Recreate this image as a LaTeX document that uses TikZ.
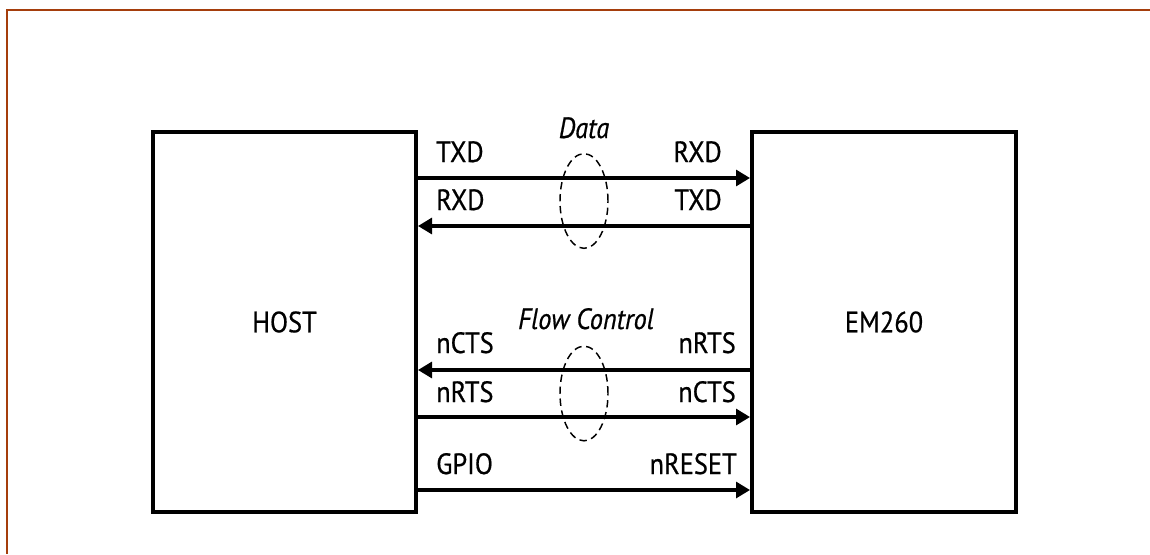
\documentclass[tikz,border=0pt]{standalone}
\usepackage{fontspec}
\setmainfont{PT Sans}[FakeStretch=0.9,FakeBold=0.6]
\usetikzlibrary{arrows.meta,shapes.geometric}
\definecolor{framebrown}{RGB}{165,62,12}
\begin{document}
\begin{tikzpicture}[x=0.75pt,y=-0.75pt,
  box/.style={draw,line width=3pt,minimum height=285pt,inner sep=0pt,font=\fontsize{22}{24}\selectfont},
  sig/.style={line width=2.3pt,-{Triangle[length=10.5pt,width=12pt]}},
  lbl/.style={inner sep=0pt,font=\fontsize{22}{24}\selectfont},
  grp/.style={inner sep=0pt,font=\fontsize{22}{24}\selectfont\itshape},
  ell/.style={draw,ellipse,inner sep=0pt,line width=1.1pt,dash pattern=on 5.5pt off 3.5pt,minimum width=36pt,minimum height=71pt}]
\useasboundingbox (0,0) rectangle (1150,554);
% frame
\coordinate (frTL) at (7,10);
\coordinate (frTR) at (1150,10);
\coordinate (frBL) at (7,554);
\draw[framebrown,line width=1.9pt] (frTR) -- (frTL) -- (frBL);
% boxes
\node[box,minimum width=197.25pt] (HOST) at (284.5,322) {HOST};
\node[box,minimum width=198pt] (EM) at (884,322) {EM260};
% signal levels
\coordinate (y1) at (0,178);
\coordinate (y2) at (0,226);
\coordinate (y3) at (0,370);
\coordinate (y4) at (0,417);
\coordinate (y5) at (0,490);
\draw[sig] (HOST.east |- y1) -- (EM.west |- y1);
\draw[sig] (EM.west |- y2) -- (HOST.east |- y2);
\draw[sig] (EM.west |- y3) -- (HOST.east |- y3);
\draw[sig] (HOST.east |- y4) -- (EM.west |- y4);
\draw[sig] (HOST.east |- y5) -- (EM.west |- y5);
% labels
\node[lbl,anchor=base west] (l1) at (436,162) {TXD};
\node[lbl,anchor=base west] (l2) at (436,210) {RXD};
\node[lbl,anchor=base west] (l3) at (436,353) {nCTS};
\node[lbl,anchor=base west] (l4) at (436,402) {nRTS};
\node[lbl,anchor=base west] (l5) at (436,474) {GPIO};
\node[lbl,anchor=base east] (r1) at (722,162) {RXD};
\node[lbl,anchor=base east] (r2) at (722,210) {TXD};
\node[lbl,anchor=base east] (r3) at (736,353) {nRTS};
\node[lbl,anchor=base east] (r4) at (736,402) {nCTS};
\node[lbl,anchor=base east] (r5) at (737,474) {nRESET};
% groups
\node[ell] (dataell) at (584,201) {};
\node[ell] (flowell) at (584,393.5) {};
\node[grp,anchor=base] (datalbl) at (584,138) {Data};
\node[grp,anchor=base] (flowlbl) at (586,329) {Flow Control};
\end{tikzpicture}
\end{document}
